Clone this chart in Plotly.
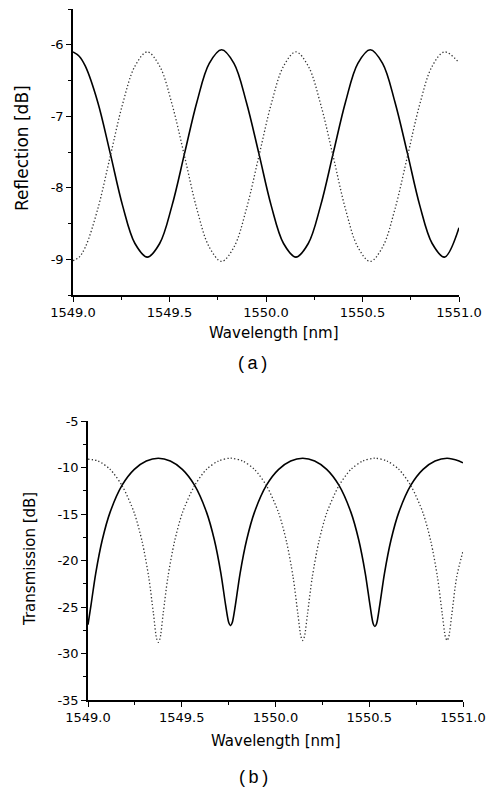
import plotly.graph_objects as go

# ---------------- data ----------------
refl_wl = [1549.000, 1549.032, 1549.064, 1549.128, 1549.193, 1549.257, 1549.321, 1549.385,
           1549.449, 1549.513, 1549.578, 1549.642, 1549.706, 1549.770,
           1549.834, 1549.898, 1549.963, 1550.027, 1550.091, 1550.155,
           1550.219, 1550.283, 1550.348, 1550.412, 1550.476, 1550.540,
           1550.604, 1550.668, 1550.733, 1550.797, 1550.861, 1550.925, 1551.000]
refl_solid = [-6.10, -6.16, -6.30, -6.80, -7.52, -8.25, -8.78, -8.97,
              -8.78, -8.25, -7.52, -6.80, -6.26, -6.07,
              -6.26, -6.80, -7.52, -8.25, -8.78, -8.97,
              -8.78, -8.25, -7.52, -6.80, -6.26, -6.07,
              -6.26, -6.80, -7.52, -8.25, -8.78, -8.97, -8.56]
refl_dotted = [-9.02, -8.97, -8.83, -8.30, -7.56, -6.83, -6.30, -6.10,
               -6.30, -6.83, -7.56, -8.30, -8.83, -9.03,
               -8.83, -8.30, -7.56, -6.83, -6.30, -6.10,
               -6.30, -6.83, -7.56, -8.30, -8.83, -9.03,
               -8.83, -8.30, -7.56, -6.83, -6.30, -6.10, -6.25]

trans_solid_wl = [1549.000, 1549.016, 1549.041, 1549.076, 1549.118, 1549.182, 1549.247, 1549.311, 1549.375,
                  1549.439, 1549.503, 1549.568, 1549.632, 1549.674, 1549.709, 1549.734, 1549.751, 1549.760,
                  1549.769, 1549.786, 1549.811, 1549.846, 1549.888, 1549.952, 1550.017, 1550.081, 1550.145,
                  1550.209, 1550.273, 1550.338, 1550.402, 1550.444, 1550.479, 1550.504, 1550.521, 1550.530,
                  1550.539, 1550.556, 1550.581, 1550.616, 1550.658, 1550.722, 1550.787, 1550.851, 1550.915,
                  1550.979, 1551.000]
trans_solid = [-26.9, -24.8, -21.4, -17.8, -14.8, -11.9, -10.2, -9.3, -9.0,
               -9.3, -10.2, -11.9, -14.8, -17.8, -21.4, -24.8, -26.7, -27.0,
               -26.7, -24.8, -21.4, -17.8, -14.8, -11.9, -10.2, -9.3, -9.0,
               -9.3, -10.2, -11.9, -14.8, -17.8, -21.4, -24.8, -26.8, -27.1,
               -26.8, -24.8, -21.4, -17.8, -14.8, -11.9, -10.2, -9.3, -9.0,
               -9.3, -9.5]

trans_dotted_wl = [1549.000, 1549.054, 1549.118, 1549.183, 1549.247, 1549.289, 1549.324, 1549.349, 1549.366, 1549.375,
                   1549.384, 1549.401, 1549.426, 1549.461, 1549.503, 1549.567, 1549.632, 1549.696, 1549.760,
                   1549.824, 1549.888, 1549.953, 1550.017, 1550.059, 1550.094, 1550.119, 1550.136, 1550.145,
                   1550.154, 1550.171, 1550.196, 1550.231, 1550.273, 1550.337, 1550.402, 1550.466, 1550.530,
                   1550.594, 1550.658, 1550.723, 1550.787, 1550.829, 1550.864, 1550.889, 1550.906, 1550.915,
                   1550.924, 1550.941, 1550.966, 1551.000]
trans_dotted = [-9.1, -9.3, -10.2, -12.0, -14.9, -18.0, -21.8, -25.7, -28.4, -28.8,
                -28.4, -25.7, -21.8, -18.0, -14.9, -12.0, -10.2, -9.3, -9.0,
                -9.3, -10.2, -12.0, -14.9, -18.0, -21.8, -25.7, -28.2, -28.6,
                -28.2, -25.7, -21.8, -18.0, -14.9, -12.0, -10.2, -9.3, -9.0,
                -9.3, -10.2, -12.0, -14.9, -18.0, -21.8, -25.7, -28.2, -28.6,
                -28.2, -25.7, -21.8, -19.0]

wl_ticks = [1549.0, 1549.5, 1550.0, 1550.5, 1551.0]
wl_ticklabels = ["1549.0", "1549.5", "1550.0", "1550.5", "1551.0"]
refl_ticks = [-9, -8, -7, -6]
refl_ticklabels = ["-9", "-8", "-7", "-6"]
trans_ticks = [-35, -30, -25, -20, -15, -10, -5]
trans_ticklabels = ["-35", "-30", "-25", "-20", "-15", "-10", "-5"]

x_title = "Wavelength [nm]"
refl_title = "Reflection [dB]"
trans_title = "Transmission [dB]"

# ---------------- figure ----------------
FONT = "DejaVu Sans"
W, H = 492, 790

fig = go.Figure()
refl_solid_line = dict(color="black", width=1.6, shape="spline", smoothing=1.0)
refl_dot_line = dict(color="#333333", width=1.3, dash="1.3px,2.2px", shape="spline", smoothing=1.0)
trans_solid_line = dict(color="black", width=1.6, shape="spline", smoothing=0.8)
trans_dot_line = dict(color="#333333", width=1.3, dash="1.3px,2.2px", shape="spline", smoothing=0.8)

fig.add_trace(go.Scatter(x=refl_wl, y=refl_solid, mode="lines", line=refl_solid_line,
                         xaxis="x", yaxis="y", showlegend=False))
fig.add_trace(go.Scatter(x=refl_wl, y=refl_dotted, mode="lines", line=refl_dot_line,
                         xaxis="x", yaxis="y", showlegend=False))
fig.add_trace(go.Scatter(x=trans_solid_wl, y=trans_solid, mode="lines", line=trans_solid_line,
                         xaxis="x2", yaxis="y2", showlegend=False))
fig.add_trace(go.Scatter(x=trans_dotted_wl, y=trans_dotted, mode="lines", line=trans_dot_line,
                         xaxis="x2", yaxis="y2", showlegend=False))

common = dict(showline=True, linecolor="black", linewidth=1.5, ticks="outside",
              ticklen=5, tickwidth=1.3, tickcolor="black", showgrid=False,
              zeroline=False, automargin=False,
              tickfont=dict(family=FONT, size=13, color="black"))

def px_x(a, b):
    return [a / W, b / W]

def px_y(top, bottom):
    return [1 - bottom / H, 1 - top / H]

def ann(text, cx, cy, size, angle=0, family=FONT):
    return dict(text=text, x=cx / W, y=1 - cy / H, xref="paper", yref="paper",
                xanchor="center", yanchor="middle", textangle=angle,
                showarrow=False, font=dict(family=family, size=size, color="black"))

minor_x = dict(ticks="outside", ticklen=3, tickwidth=1, tickcolor="black", dtick=0.25, tick0=1549.0)

fig.update_layout(
    width=W, height=H, margin=dict(l=0, r=0, t=0, b=0),
    paper_bgcolor="white", plot_bgcolor="white",
    xaxis=dict(domain=px_x(73, 459), anchor="y", range=[1549.0, 1551.0],
               tickmode="array", tickvals=wl_ticks, ticktext=wl_ticklabels,
               minor=minor_x, **common),
    yaxis=dict(domain=px_y(9, 295), anchor="x", range=[-9.5, -5.5],
               tickmode="array", tickvals=refl_ticks, ticktext=refl_ticklabels,
               minor=dict(ticks="outside", ticklen=3, tickwidth=1, tickcolor="black", dtick=0.5, tick0=-9.5),
               **common),
    xaxis2=dict(domain=px_x(88, 463), anchor="y2", range=[1549.0, 1551.0],
                tickmode="array", tickvals=wl_ticks, ticktext=wl_ticklabels,
                minor=minor_x, **common),
    yaxis2=dict(domain=px_y(421, 700), anchor="x2", range=[-35, -5],
                tickmode="array", tickvals=trans_ticks, ticktext=trans_ticklabels,
                minor=dict(ticks="outside", ticklen=3, tickwidth=1, tickcolor="black", dtick=2.5, tick0=-35),
                **common),
    annotations=[
        ann(x_title, 274, 333, 15),
        ann(refl_title, 22, 148, 17, angle=-90),
        ann(x_title, 276, 741, 15),
        ann(trans_title, 30, 559, 15, angle=-90),
        ann("(\u2009a\u2009)", 252, 363, 18, family="Liberation Sans"),
        ann("(\u2009b\u2009)", 253, 777, 18, family="Liberation Sans"),
    ],
)

fig.write_html("out.html")
